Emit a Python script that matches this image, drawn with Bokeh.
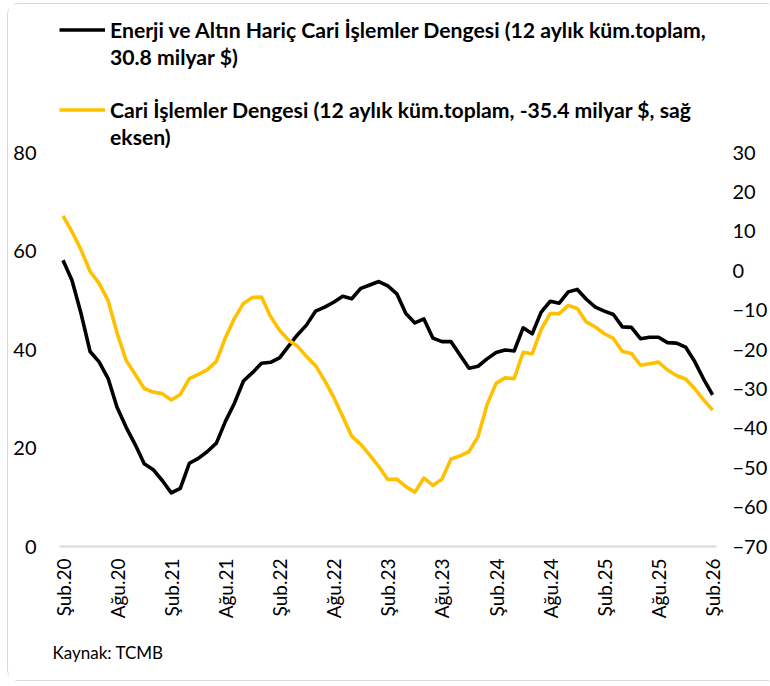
import math
from bokeh.plotting import figure
from bokeh.models import (Range1d, LinearAxis, FixedTicker, Legend, LegendItem,
                          Title, ColumnDataSource)
from bokeh.embed import file_html
from bokeh.resources import INLINE

# ---- data (monthly, Şub.20 .. Şub.26) ----
tick_labels = ["Şub.20", "Ağu.20", "Şub.21", "Ağu.21", "Şub.22", "Ağu.22", "Şub.23",
               "Ağu.23", "Şub.24", "Ağu.24", "Şub.25", "Ağu.25", "Şub.26"]

ex_energy_gold = [58.1, 54.0, 47.3, 39.6, 37.5, 34.1, 28.2, 24.2, 20.7, 16.8, 15.6, 13.4,
                  10.9, 11.8, 16.9, 17.9, 19.3, 21.0, 25.4, 29.1, 33.6, 35.3, 37.2, 37.4,
                  38.3, 40.7, 43.0, 45.0, 47.8, 48.6, 49.6, 50.8, 50.3, 52.4, 53.1, 53.8,
                  52.9, 51.3, 47.3, 45.4, 46.2, 42.3, 41.6, 41.6, 38.9, 36.2, 36.6, 38.1,
                  39.4, 39.9, 39.7, 44.4, 43.2, 47.6, 49.8, 49.4, 51.7, 52.2, 50.2, 48.6,
                  47.8, 47.1, 44.6, 44.5, 42.2, 42.5, 42.5, 41.4, 41.3, 40.5, 37.6, 34.0,
                  30.8]

current_account = [13.9, 9.9, 5.3, -0.2, -3.2, -7.6, -15.9, -22.8, -26.3, -29.9, -30.8, -31.2,
                   -32.8, -31.4, -27.4, -26.3, -25.1, -23.0, -17.0, -12.1, -8.3, -6.8, -6.7, -11.6,
                   -15.1, -17.6, -19.2, -21.8, -24.1, -27.9, -32.1, -37.0, -42.0, -44.1, -46.8, -49.7,
                   -53.0, -52.9, -54.8, -56.2, -52.6, -54.5, -52.9, -47.8, -47.0, -45.9, -42.1, -34.0,
                   -28.6, -27.2, -27.4, -20.7, -21.1, -14.9, -10.9, -10.9, -8.8, -9.6, -13.0, -14.3,
                   -16.0, -17.2, -20.5, -21.0, -24.0, -23.6, -23.2, -25.2, -26.6, -27.5, -29.9, -32.8,
                   -35.4]

left_ticks = [0, 20, 40, 60, 80]
right_ticks = [-70, -60, -50, -40, -30, -20, -10, 0, 10, 20, 30]

black_label_lines = ["Enerji ve Altın Hariç Cari İşlemler Dengesi (12 aylık küm.toplam,",
                     "30.8 milyar $)"]
yellow_label_lines = ["Cari İşlemler Dengesi (12 aylık küm.toplam, -35.4 milyar $, sağ",
                      "eksen)"]

months = list(range(len(ex_energy_gold)))
src = ColumnDataSource(dict(x=months, black=ex_energy_gold, yellow=current_account))

FONT = "Lato"
W, H = 762, 678
BORDER_L, BORDER_R, BORDER_B = 51, 52, 136
FRAME_H = H - BORDER_B            # frame reaches the top of the canvas
PLOT_H = 394                      # pixel height of the 0..80 / -70..30 span

left_lo, left_hi = 0, 80
right_lo, right_hi = -70, 30
# extend the ranges upward so the legend can sit inside the frame above the data
left_end = left_lo + (left_hi - left_lo) * FRAME_H / PLOT_H
right_end = right_lo + (right_hi - right_lo) * FRAME_H / PLOT_H

p = figure(width=W, height=H, output_backend="svg", toolbar_location=None,
           x_range=Range1d(-0.39, 72.43), y_range=Range1d(left_lo, left_end),
           min_border_left=BORDER_L, min_border_right=BORDER_R, min_border_top=0,
           min_border_bottom=BORDER_B,
           background_fill_color="white", border_fill_color="white",
           outline_line_color=None,
           styles={"margin": "3px 0 0 7px",
                   "border-top": "1px solid #d9d9d9",
                   "border-left": "1px solid #d9d9d9",
                   "border-bottom": "1px solid #d9d9d9",
                   "border-top-left-radius": "12px",
                   "border-bottom-left-radius": "12px"})
p.extra_y_ranges = {"right": Range1d(right_lo, right_end)}

r_black = p.line("x", "black", source=src, line_color="black", line_width=3.6, line_join="round")
r_yellow = p.line("x", "yellow", source=src, line_color="#FFC000", line_width=3.6,
                  line_join="round", y_range_name="right")
r_blank = p.line(x=[], y=[], line_alpha=0)   # legend placeholder for wrapped label lines

p.xgrid.visible = False
p.ygrid.visible = False

# bottom axis
xa = p.xaxis[0]
xa.ticker = FixedTicker(ticks=[6 * i for i in range(len(tick_labels))])
xa.major_label_overrides = {6 * i: t for i, t in enumerate(tick_labels)}
xa.major_label_orientation = math.pi / 2
xa.axis_line_color = "#d9d9d9"
xa.axis_line_width = 2
xa.major_tick_line_color = None
xa.minor_tick_line_color = None
xa.major_tick_out = 0
xa.major_label_standoff = 12
xa.major_label_text_font = FONT
xa.major_label_text_font_size = "19px"
xa.major_label_text_color = "black"

# left axis
ya = p.yaxis[0]
ya.ticker = FixedTicker(ticks=left_ticks)
ya.axis_line_color = None
ya.major_tick_line_color = None
ya.minor_tick_line_color = None
ya.major_tick_out = 0
ya.major_label_standoff = 23
ya.major_label_text_font = FONT
ya.major_label_text_font_size = "20px"
ya.major_label_text_color = "black"

# right axis
ra = LinearAxis(y_range_name="right", ticker=FixedTicker(ticks=right_ticks))
ra.axis_line_color = None
ra.major_tick_line_color = None
ra.minor_tick_line_color = None
ra.major_tick_out = 0
ra.major_label_standoff = 16
ra.major_label_text_font = FONT
ra.major_label_text_font_size = "20px"
ra.major_label_text_color = "black"
p.add_layout(ra, "right")

LINE_H = 27


def make_legend(lines, renderer, top):
    items = [LegendItem(label=lines[0], renderers=[renderer])]
    items += [LegendItem(label=t, renderers=[r_blank]) for t in lines[1:]]
    height = LINE_H * len(lines)
    return Legend(items=items, location=(0, FRAME_H - top - height),
                  orientation="vertical", glyph_width=46, glyph_height=LINE_H,
                  label_standoff=5, spacing=0, padding=0, margin=0,
                  background_fill_alpha=0, border_line_color=None,
                  label_text_font=FONT, label_text_font_style="bold",
                  label_text_font_size="21.2px", label_text_line_height=1.2,
                  label_text_color="black", label_height=LINE_H)


p.add_layout(make_legend(black_label_lines, r_black, 12))
p.add_layout(make_legend(yellow_label_lines, r_yellow, 92))

# small empty panel to push the source note a little lower
spacer = Title(text=" ", text_font_size="10px", standoff=0)
p.add_layout(spacer, "below")

src_title = Title(text="Kaynak: TCMB", align="left", vertical_align="bottom",
                  text_font=FONT, text_font_size="17px", text_font_style="normal",
                  offset=-7, standoff=10, text_color="black")
p.add_layout(src_title, "below")

open("out.html", "w").write(file_html(p, INLINE))
